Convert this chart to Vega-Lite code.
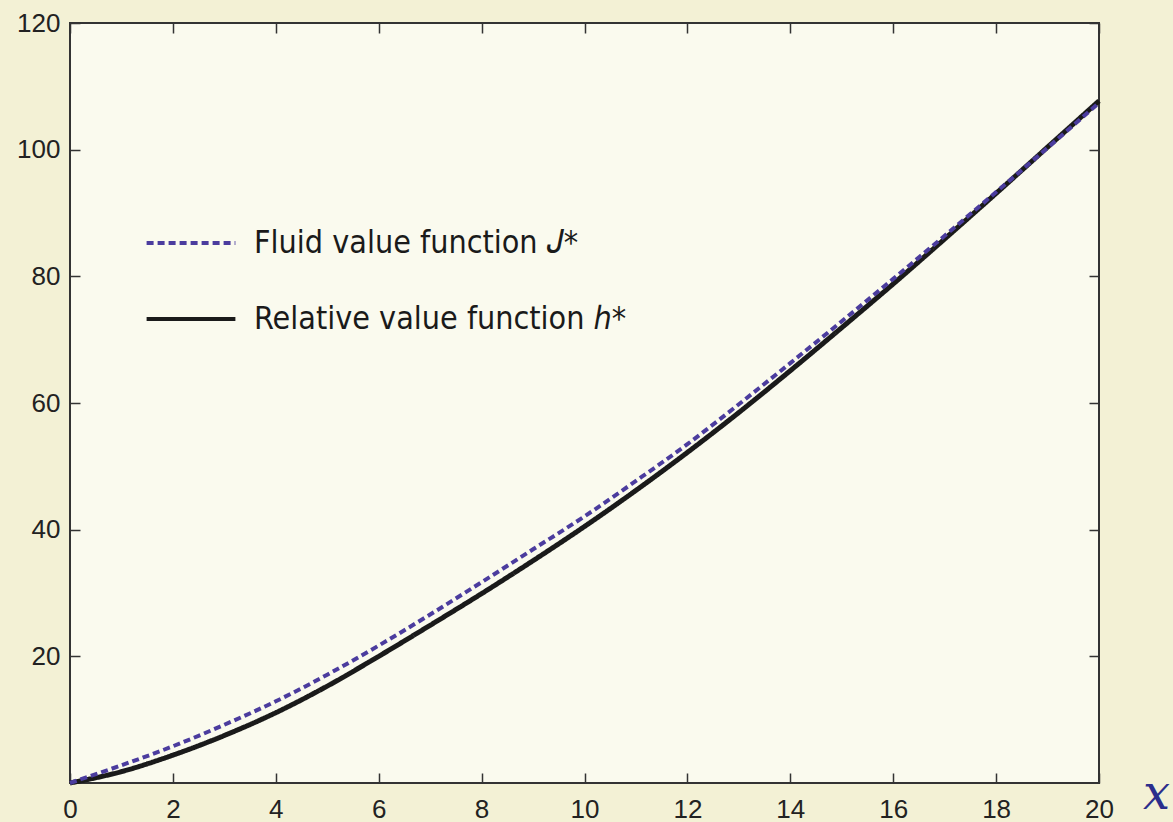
{
  "$schema": "https://vega.github.io/schema/vega-lite/v6.json",
  "autosize": "none",
  "width": 1029,
  "height": 760,
  "padding": {"left": 70, "top": 23, "right": 74, "bottom": 39},
  "background": "#F3F1D5",
  "config": {
    "view": {"fill": "#FAFAEE", "stroke": "#333333", "strokeWidth": 2},
    "axis": {"domain": false, "grid": false, "tickColor": "#333333", "tickWidth": 1.5, "labelFont": "Liberation Sans", "labelFontSize": 26, "labelColor": "#222222", "labelFlush": false}
  },
  "data": {"values": [
    {"x": 0, "y": 0, "s": "Relative value function ℎ*"},
    {"x": 1, "y": 1.8, "s": "Relative value function ℎ*"},
    {"x": 2, "y": 4.4, "s": "Relative value function ℎ*"},
    {"x": 3, "y": 7.5, "s": "Relative value function ℎ*"},
    {"x": 4, "y": 11.1, "s": "Relative value function ℎ*"},
    {"x": 5, "y": 15.3, "s": "Relative value function ℎ*"},
    {"x": 6, "y": 20.0, "s": "Relative value function ℎ*"},
    {"x": 7, "y": 24.9, "s": "Relative value function ℎ*"},
    {"x": 8, "y": 29.9, "s": "Relative value function ℎ*"},
    {"x": 9, "y": 35.1, "s": "Relative value function ℎ*"},
    {"x": 10, "y": 40.5, "s": "Relative value function ℎ*"},
    {"x": 11, "y": 46.2, "s": "Relative value function ℎ*"},
    {"x": 12, "y": 52.2, "s": "Relative value function ℎ*"},
    {"x": 13, "y": 58.5, "s": "Relative value function ℎ*"},
    {"x": 14, "y": 65.1, "s": "Relative value function ℎ*"},
    {"x": 15, "y": 71.9, "s": "Relative value function ℎ*"},
    {"x": 16, "y": 78.8, "s": "Relative value function ℎ*"},
    {"x": 17, "y": 85.9, "s": "Relative value function ℎ*"},
    {"x": 18, "y": 93.1, "s": "Relative value function ℎ*"},
    {"x": 19, "y": 100.4, "s": "Relative value function ℎ*"},
    {"x": 20, "y": 107.7, "s": "Relative value function ℎ*"},
    {"x": 0, "y": 0, "s": "Fluid value function 𝐽*"},
    {"x": 1, "y": 2.8, "s": "Fluid value function 𝐽*"},
    {"x": 2, "y": 5.8, "s": "Fluid value function 𝐽*"},
    {"x": 3, "y": 9.2, "s": "Fluid value function 𝐽*"},
    {"x": 4, "y": 12.9, "s": "Fluid value function 𝐽*"},
    {"x": 5, "y": 17.1, "s": "Fluid value function 𝐽*"},
    {"x": 6, "y": 21.7, "s": "Fluid value function 𝐽*"},
    {"x": 7, "y": 26.6, "s": "Fluid value function 𝐽*"},
    {"x": 8, "y": 31.7, "s": "Fluid value function 𝐽*"},
    {"x": 9, "y": 36.9, "s": "Fluid value function 𝐽*"},
    {"x": 10, "y": 42.1, "s": "Fluid value function 𝐽*"},
    {"x": 11, "y": 47.7, "s": "Fluid value function 𝐽*"},
    {"x": 12, "y": 53.5, "s": "Fluid value function 𝐽*"},
    {"x": 13, "y": 59.8, "s": "Fluid value function 𝐽*"},
    {"x": 14, "y": 66.3, "s": "Fluid value function 𝐽*"},
    {"x": 15, "y": 72.9, "s": "Fluid value function 𝐽*"},
    {"x": 16, "y": 79.6, "s": "Fluid value function 𝐽*"},
    {"x": 17, "y": 86.4, "s": "Fluid value function 𝐽*"},
    {"x": 18, "y": 93.3, "s": "Fluid value function 𝐽*"},
    {"x": 19, "y": 100.3, "s": "Fluid value function 𝐽*"},
    {"x": 20, "y": 107.4, "s": "Fluid value function 𝐽*"}
  ]},
  "encoding": {
    "color": {
      "field": "s", "type": "nominal",
      "scale": {"domain": ["Fluid value function 𝐽*", "Relative value function ℎ*"], "range": ["#4B3C9E", "#1A1A1A"]},
      "legend": {
        "title": null, "orient": "none", "legendX": 82, "legendY": 181, "padding": 0,
        "symbolType": "M-1.2,0L1.2,0", "symbolSize": 5476, "symbolStrokeWidth": 4, "symbolFillColor": "transparent",
        "labelFont": "DejaVu Sans Condensed", "labelFontSize": 32, "labelColor": "#1A1A1A", "labelOffset": 24, "rowPadding": 21, "labelLimit": 600
      }
    },
    "strokeDash": {
      "field": "s", "type": "nominal",
      "scale": {"domain": ["Fluid value function 𝐽*", "Relative value function ℎ*"], "range": [[7, 4], [1, 0]]},
      "legend": null
    }
  },
  "layer": [
    {
      "transform": [{"filter": "datum.s == 'Relative value function ℎ*'"}],
      "mark": {"type": "line", "strokeWidth": 5, "interpolate": "monotone"},
      "encoding": {
        "x": {"field": "x", "type": "quantitative", "scale": {"domain": [0, 20], "nice": false},
          "axis": {"orient": "bottom", "values": [0,2,4,6,8,10,12,14,16,18,20], "tickSize": -10, "labelPadding": 23,
            "title": "x", "titleFont": "DejaVu Serif", "titleFontStyle": "italic", "titleFontWeight": "normal", "titleFontSize": 48, "titleColor": "#2B2E8C",
            "titleX": 1086, "titleY": 25, "titleAlign": "center", "titleBaseline": "alphabetic"}},
        "y": {"field": "y", "type": "quantitative", "scale": {"domain": [0, 120], "nice": false},
          "axis": {"orient": "left", "values": [20,40,60,80,100,120], "tickSize": -10, "labelPadding": 20, "title": null}}
      }
    },
    {
      "transform": [{"filter": "datum.s == 'Fluid value function 𝐽*'"}],
      "mark": {"type": "line", "strokeWidth": 4, "interpolate": "monotone"},
      "encoding": {
        "x": {"field": "x", "type": "quantitative", "scale": {"domain": [0, 20], "nice": false},
          "axis": {"orient": "top", "values": [0,2,4,6,8,10,12,14,16,18,20], "tickSize": -10, "labels": false, "title": null}},
        "y": {"field": "y", "type": "quantitative", "scale": {"domain": [0, 120], "nice": false},
          "axis": {"orient": "right", "values": [20,40,60,80,100,120], "tickSize": -10, "labels": false, "title": null}}
      }
    }
  ],
  "resolve": {"axis": {"x": "independent", "y": "independent"}}
}
